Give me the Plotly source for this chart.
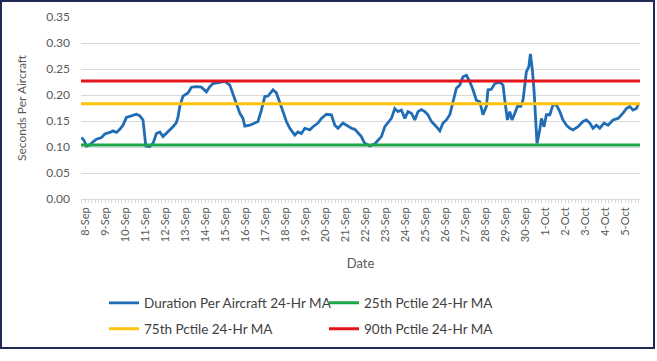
import plotly.graph_objects as go

# ---- data (days since 8-Sep, value in seconds per aircraft) ----
day_offset = [
    -0.19, -0.05, 0.07, 0.24, 0.40, 0.57, 0.82, 0.99, 1.24, 1.40, 1.57, 1.74, 1.90,
    2.07, 2.32, 2.57, 2.74, 2.90, 2.99, 3.04, 3.24, 3.40, 3.57, 3.74, 3.90, 4.07,
    4.24, 4.40, 4.57, 4.65, 4.74, 4.90, 5.15, 5.32, 5.57, 5.82, 6.07, 6.24, 6.40,
    6.65, 6.99, 7.24, 7.40, 7.57, 7.74, 7.90, 7.99, 8.24, 8.49, 8.65, 8.82, 8.99,
    9.15, 9.40, 9.57, 9.74, 9.90, 10.07, 10.24, 10.49, 10.65, 10.82, 10.99, 11.24,
    11.40, 11.65, 11.82, 12.07, 12.32, 12.49, 12.65, 12.90, 13.15, 13.32, 13.49,
    13.65, 13.82, 13.90, 13.99, 14.24, 14.49, 14.65, 14.82, 14.99, 15.15, 15.32,
    15.49, 15.65, 15.82, 15.99, 16.15, 16.32, 16.49, 16.65, 16.82, 16.99, 17.15,
    17.32, 17.57, 17.74, 17.90, 18.07, 18.24, 18.40, 18.57, 18.74, 18.90, 19.07,
    19.24, 19.40, 19.57, 19.74, 19.90, 20.07, 20.15, 20.32, 20.49, 20.74, 20.90,
    20.99, 21.12, 21.24, 21.35, 21.49, 21.62, 21.79, 21.90, 22.07, 22.19, 22.27,
    22.37, 22.45, 22.54, 22.60, 22.74, 22.82, 22.95, 23.07, 23.24, 23.40, 23.57,
    23.74, 23.90, 24.07, 24.24, 24.40, 24.65, 24.90, 25.07, 25.24, 25.40, 25.57,
    25.74, 25.95, 26.15, 26.40, 26.65, 26.90, 27.07, 27.24, 27.40, 27.57, 27.69,
]
duration_ma = [
    0.118, 0.113, 0.102, 0.104, 0.110, 0.115, 0.118, 0.125, 0.128, 0.131, 0.128, 0.134, 0.142,
    0.157, 0.160, 0.163, 0.160, 0.152, 0.120, 0.102, 0.101, 0.107, 0.126, 0.129, 0.120, 0.126,
    0.133, 0.139, 0.147, 0.158, 0.178, 0.198, 0.204, 0.215, 0.216, 0.215, 0.206, 0.216, 0.222,
    0.224, 0.226, 0.219, 0.203, 0.184, 0.165, 0.155, 0.140, 0.142, 0.147, 0.149, 0.171, 0.197,
    0.198, 0.210, 0.204, 0.187, 0.168, 0.149, 0.136, 0.123, 0.129, 0.126, 0.136, 0.133,
    0.139, 0.146, 0.155, 0.163, 0.162, 0.142, 0.136, 0.146, 0.139, 0.136, 0.134,
    0.128, 0.120, 0.113, 0.107, 0.102, 0.106, 0.113, 0.120, 0.139, 0.146, 0.155,
    0.174, 0.168, 0.171, 0.155, 0.168, 0.165, 0.152, 0.168, 0.172, 0.168, 0.162,
    0.149, 0.139, 0.131, 0.146, 0.152, 0.162, 0.187, 0.213, 0.219, 0.235, 0.238,
    0.226, 0.210, 0.190, 0.187, 0.162, 0.178, 0.210, 0.211, 0.222, 0.225, 0.219,
    0.190, 0.152, 0.168, 0.152, 0.165, 0.178, 0.178, 0.190, 0.245, 0.254, 0.279,
    0.248, 0.210, 0.152, 0.107, 0.133, 0.155, 0.139, 0.162, 0.162, 0.181, 0.181,
    0.168, 0.152, 0.142, 0.136, 0.133, 0.139, 0.149, 0.152, 0.146, 0.136, 0.142,
    0.136, 0.146, 0.142, 0.152, 0.155, 0.165, 0.174, 0.178, 0.171, 0.174, 0.184,
]
pctile_25 = 0.104
pctile_75 = 0.183
pctile_90 = 0.227

tick_days = list(range(28))
tick_labels = [
    "8-Sep", "9-Sep", "10-Sep", "11-Sep", "12-Sep", "13-Sep", "14-Sep", "15-Sep",
    "16-Sep", "17-Sep", "18-Sep", "19-Sep", "20-Sep", "21-Sep", "22-Sep", "23-Sep",
    "24-Sep", "25-Sep", "26-Sep", "27-Sep", "28-Sep", "29-Sep", "30-Sep",
    "1-Oct", "2-Oct", "3-Oct", "4-Oct", "5-Oct",
]
y_ticks = [0.00, 0.05, 0.10, 0.15, 0.20, 0.25, 0.30, 0.35]

FONT = "Lato, 'Open Sans', sans-serif"
TXT = "#595959"

x_span = [-0.2, 27.75]

fig = go.Figure()
fig.add_trace(go.Scatter(
    x=day_offset, y=duration_ma, mode="lines",
    name="Duration Per Aircraft 24-Hr MA",
    line=dict(color="#1F6DB5", width=2.8), legend="legend",
))
fig.add_trace(go.Scatter(
    x=x_span, y=[pctile_25, pctile_25], mode="lines",
    name="25th Pctile 24-Hr MA",
    line=dict(color="#1FA64A", width=3), legend="legend2",
))
fig.add_trace(go.Scatter(
    x=x_span, y=[pctile_75, pctile_75], mode="lines",
    name="75th Pctile 24-Hr MA",
    line=dict(color="#FFC20E", width=3), legend="legend3",
))
fig.add_trace(go.Scatter(
    x=x_span, y=[pctile_90, pctile_90], mode="lines",
    name="90th Pctile 24-Hr MA",
    line=dict(color="#E3141B", width=3), legend="legend4",
))

# pixel helpers for paper coords (plot area: x 81..640, y 17..199)
L, R, T, B = 81, 640, 17, 199
def px_x(px):
    return (px - L) / (R - L)
def px_y(py):
    return (B - py) / (B - T)

legend_common = dict(
    orientation="h", xanchor="left", yanchor="middle",
    font=dict(family=FONT, size=13.5, color="#404040"),
    bgcolor="rgba(0,0,0,0)", itemwidth=30,
)
col1, col2 = 104, 324
row1, row2 = 303, 329

fig.update_layout(
    width=657, height=361, autosize=False,
    margin=dict(l=L, r=657 - R, t=T, b=361 - B, pad=0),
    paper_bgcolor="white", plot_bgcolor="white",
    font=dict(family=FONT, color=TXT),
    showlegend=True,
    legend=dict(x=px_x(col1), y=px_y(row1), **legend_common),
    legend2=dict(x=px_x(col2), y=px_y(row1), **legend_common),
    legend3=dict(x=px_x(col1), y=px_y(row2), **legend_common),
    legend4=dict(x=px_x(col2), y=px_y(row2), **legend_common),
    xaxis=dict(
        range=x_span, tickmode="array", tickvals=tick_days, ticktext=tick_labels,
        tickangle=-90, tickfont=dict(family=FONT, size=11, color=TXT),
        showgrid=False, zeroline=False,
        showline=True, linecolor="#D9D9D9", linewidth=1,
        ticks="outside", ticklen=3, tickcolor="#D9D9D9",
        minor=dict(dtick=1 / 6, ticks="outside", ticklen=3, tickcolor="#D9D9D9", showgrid=False),
        title=dict(text="Date", font=dict(family=FONT, size=13, color=TXT), standoff=17),
        automargin=False,
    ),
    yaxis=dict(
        range=[0, 0.35], tickmode="array", tickvals=y_ticks,
        tickformat=".2f", tickfont=dict(family=FONT, size=12, color=TXT),
        showgrid=True, gridcolor="#D9D9D9", gridwidth=1,
        zeroline=False, showline=False, ticks="",
        ticklabelstandoff=10,
        title=dict(text="Seconds Per Aircraft", font=dict(family=FONT, size=12, color=TXT), standoff=17),
        automargin=False,
    ),
    shapes=[dict(
        type="rect", xref="paper", yref="paper",
        x0=px_x(1), x1=px_x(654), y0=px_y(348), y1=px_y(1),
        line=dict(color="#1F2A55", width=2), fillcolor="rgba(0,0,0,0)", layer="below",
    )],
)

fig.write_html(
    "out.html",
    config={"displayModeBar": False},
    post_script="document.body.style.margin='0';",
)
